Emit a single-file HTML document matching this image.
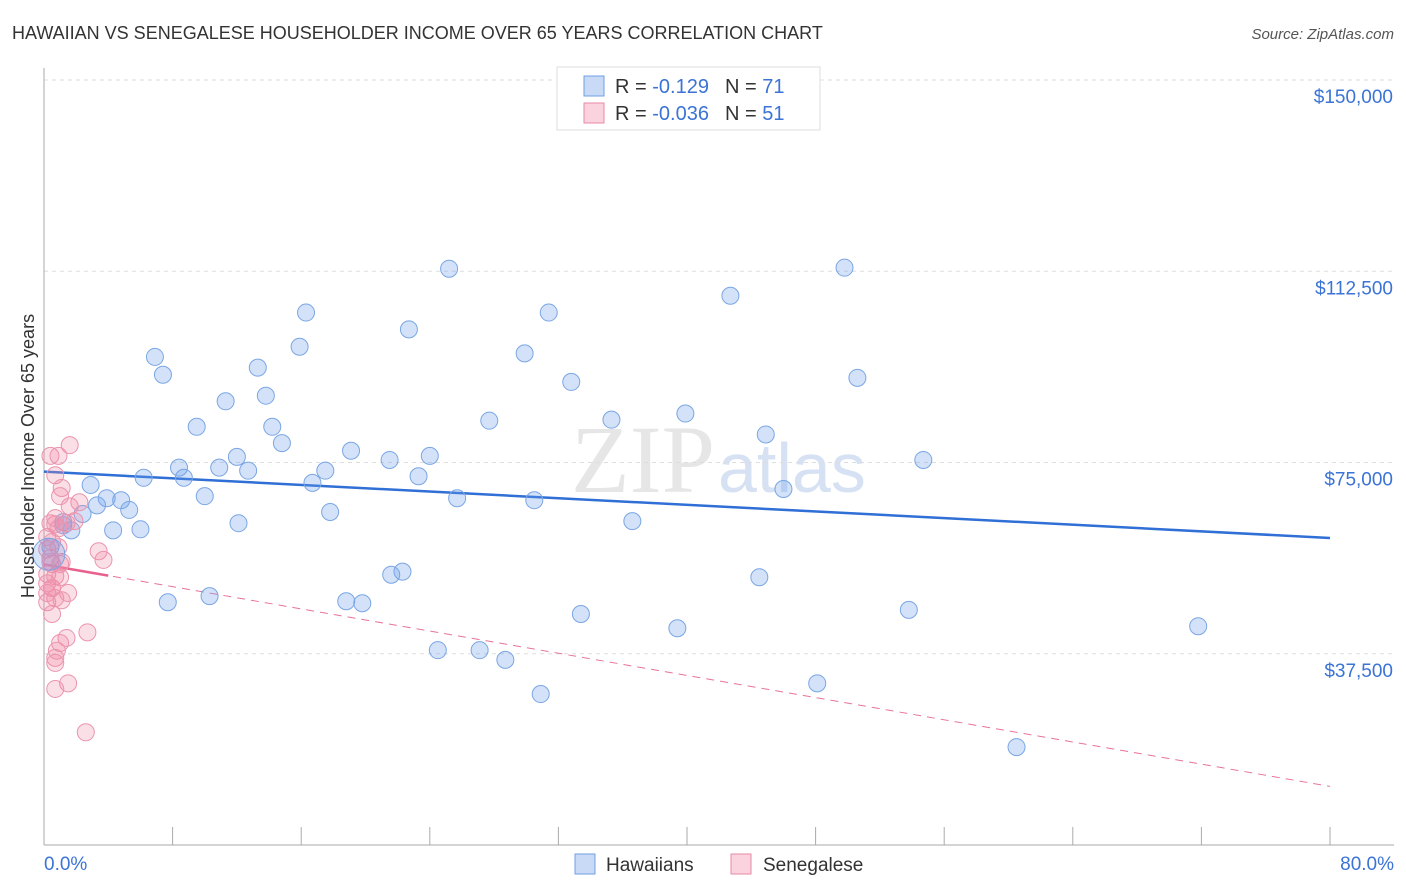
<!DOCTYPE html>
<html><head><meta charset="utf-8"><style>
body{margin:0;background:#fff;font-family:"Liberation Sans",sans-serif;}
svg{display:block}
</style></head><body>
<svg id="c" width="1406" height="892">
<text x="12" y="39" font-size="18" fill="#333">HAWAIIAN VS SENEGALESE HOUSEHOLDER INCOME OVER 65 YEARS CORRELATION CHART</text>
<text x="1394" y="39" font-size="15" fill="#555" font-style="italic" text-anchor="end">Source: ZipAtlas.com</text>
<text x="715" y="492" font-size="96" fill="#e6e6e6" text-anchor="end" font-family="Liberation Serif,serif">ZIP</text>
<text x="718" y="492" font-size="70" fill="#d6e2f4">atlas</text>
<g id="grid"></g><g id="axes"></g><g id="lines"></g><g id="pts"></g>
<text transform="translate(34,456) rotate(-90)" font-size="18" fill="#333" text-anchor="middle">Householder Income Over 65 years</text>
<text x="44" y="870" font-size="19" fill="#3b73d6">0.0%</text>
<text x="1394" y="870" font-size="19" fill="#3b73d6" text-anchor="end">80.0%</text>
<g>
<rect x="557" y="67" width="263" height="63" fill="#fff" stroke="#ddd"/>
<rect x="584" y="76" width="20" height="20" fill="rgba(100,150,230,0.35)" stroke="#6f9fe0"/>
<rect x="584" y="103" width="20" height="20" fill="rgba(240,130,160,0.35)" stroke="#e88aa6"/>
<text x="615" y="93" font-size="20" fill="#333">R = <tspan fill="#3b73d6">-0.129</tspan><tspan dx="16">N = </tspan><tspan fill="#3b73d6">71</tspan></text>
<text x="615" y="120" font-size="20" fill="#333">R = <tspan fill="#3b73d6">-0.036</tspan><tspan dx="16">N = </tspan><tspan fill="#3b73d6">51</tspan></text>
</g>
<g>
<rect x="575" y="854" width="20" height="20" fill="rgba(100,150,230,0.35)" stroke="#6f9fe0"/>
<text x="606" y="871" font-size="19" fill="#333">Hawaiians</text>
<rect x="731" y="854" width="20" height="20" fill="rgba(240,130,160,0.35)" stroke="#e88aa6"/>
<text x="763" y="871" font-size="19" fill="#333">Senegalese</text>
</g>
</svg>
<script>
const yTicks=[37500,75000,112500,150000];
const yTickLabels=["$37,500","$75,000","$112,500","$150,000"];
const blueX=[25.2,49.8,42.7,16.3,31.4,22.7,29.9,15.9,6.9,7.4,13.3,32.8,50.6,13.8,11.3,27.7,35.3,39.9,9.5,14.2,44.9,14.8,19.1,21.5,24.0,12.0,8.4,10.9,12.7,17.5,6.2,8.7,23.3,54.7,16.7,2.9,46.0,10.0,25.7,30.5,3.9,4.8,3.3,5.3,17.8,2.4,1.2,12.1,36.6,1.7,4.3,6.0,0.4,21.6,22.3,44.5,7.7,10.3,18.8,19.8,33.4,39.4,71.8,53.8,24.5,27.1,28.7,30.9,48.1,60.5,1.2];
const blueY=[113000,113200,107700,104400,104400,101100,96400,97700,95700,92200,93600,90800,91600,88100,87000,83200,83400,84600,82000,82000,80500,78800,77300,75500,76300,76100,74000,74000,73400,73400,72000,72000,72300,75500,71000,70600,69800,68400,68000,67600,68000,67600,66600,65700,65300,64900,63300,63100,63500,61700,61700,61900,58400,53000,53600,52500,47600,48800,47800,47400,45300,42500,42900,46100,38200,38200,36300,29600,31700,19200,62700];
const pinkX=[1.6,0.4,0.9,0.7,1.1,1.0,2.2,1.6,0.4,0.7,1.4,0.9,0.2,0.4,3.4,3.7,0.5,1.0,0.2,0.7,1.0,0.2,0.5,1.5,0.7,1.1,0.2,0.5,2.7,1.4,1.0,0.8,0.7,0.7,1.5,0.7,2.6,0.2,0.5,0.7,1.9,0.2,0.4,0.9,1.1,0.5];
const pinkY=[78400,76300,76300,72500,70000,68400,67200,66400,63100,62900,63100,62100,58000,56300,57600,55900,55100,55100,53100,52700,52500,51300,50400,49400,48400,48000,47600,45300,41700,40600,39600,38100,36700,35700,31700,30600,22100,60400,59400,64100,63500,49400,55500,58400,55500,50400];
const blueTrend=[73200,60200];
const pinkTrend=[55000,11500];
const x0=44,x1=1330;
const xs=p=>x0+(x1-x0)*p/80;
const ys=v=>845-(845-80)*v/150000;
const NS="http://www.w3.org/2000/svg";
function mk(tag,attrs,parent){const e=document.createElementNS(NS,tag);for(const k in attrs)e.setAttribute(k,attrs[k]);document.getElementById(parent).appendChild(e);return e;}
yTicks.forEach((v,i)=>{
 const g=mk("line",{x1:44,x2:1394,y1:ys(v),y2:ys(v),stroke:"#ddd","stroke-dasharray":"4,4"},"grid");
 
 
 const t=mk("text",{x:1393,y:ys(v)+23,"font-size":19,fill:"#3b73d6","text-anchor":"end"},"grid");
 t.textContent=yTickLabels[i];
 
 
});
const ax=mk("line",{x1:44,x2:44,y1:68,y2:845,stroke:"#aaa"},"axes");


const bx=mk("line",{x1:44,x2:1394,y1:845,y2:845,stroke:"#aaa"},"axes");


for(let i=0;i<=10;i++){const t=mk("line",{x1:xs(i*8),x2:xs(i*8),y1:827,y2:845,stroke:"#aaa"},"axes");
 
 }
const bl=mk("line",{x1:xs(0),y1:ys(blueTrend[0]),x2:xs(80),y2:ys(blueTrend[1]),stroke:"#2f6fd6","stroke-width":2.5},"lines");


const pa=pinkTrend[0],pb=(pinkTrend[1]-pinkTrend[0])/80;
const pd=mk("line",{x1:xs(0),y1:ys(pa),x2:xs(80),y2:ys(pa+pb*80),stroke:"#e8739a","stroke-width":1,"stroke-dasharray":"8,6"},"lines");


const ps=mk("line",{x1:xs(0),y1:ys(pa),x2:xs(4),y2:ys(pa+pb*4),stroke:"#e8608e","stroke-width":2.5},"lines");


blueX.forEach((x,i)=>{const c=mk("circle",{cx:xs(x),cy:ys(blueY[i]),r:8.5,fill:"rgba(110,160,235,0.3)",stroke:"#7aa6e4","stroke-width":1},"pts");
 
 });
pinkX.forEach((x,i)=>{const c=mk("circle",{cx:xs(x),cy:ys(pinkY[i]),r:8.5,fill:"rgba(240,140,170,0.28)",stroke:"#eb94ae","stroke-width":1},"pts");
 
 });
const big=mk("circle",{cx:xs(0.3),cy:ys(57000),r:16,fill:"rgba(100,150,230,0.25)",stroke:"#7aa6e4"},"pts");


</script>
</body></html>
